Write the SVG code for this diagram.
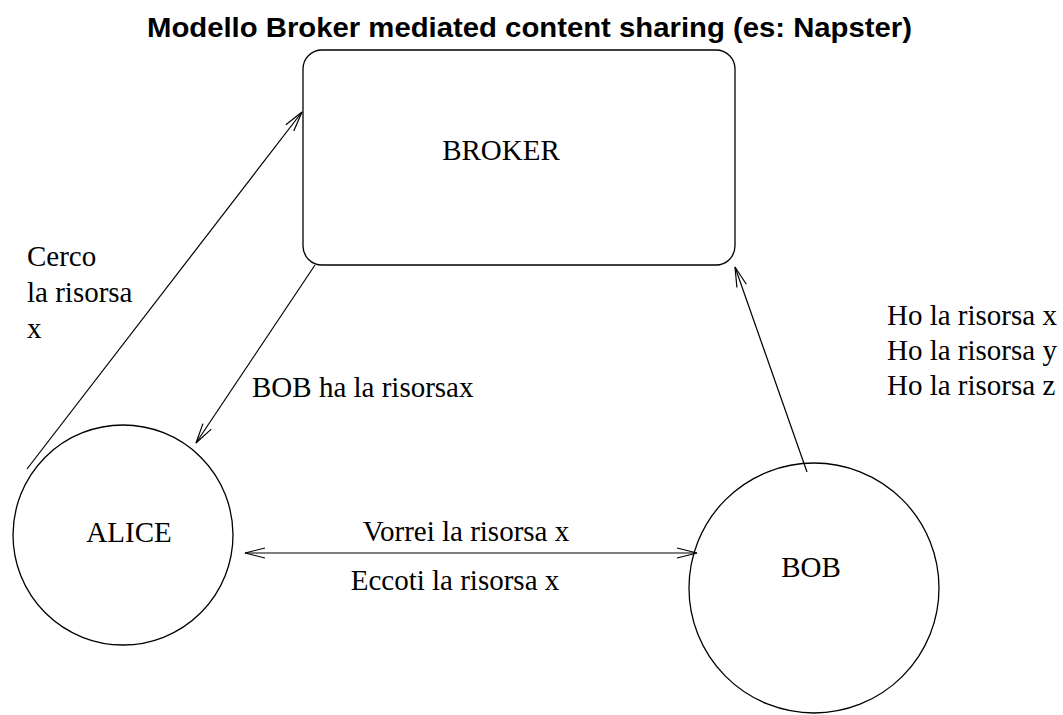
<svg xmlns="http://www.w3.org/2000/svg" width="1063" height="715" viewBox="0 0 1063 715">
<style>
.shape{fill:none;stroke:#000;stroke-width:1.3}
.edge{fill:none;stroke:#000;stroke-width:1.2}
.lbl{font-family:"Liberation Serif","Times New Roman",serif;font-size:29px;fill:#000}
.title{font-family:"Liberation Sans",Arial,sans-serif;font-size:27px;font-weight:bold;fill:#000}
</style>
<defs>
<marker id="open" markerUnits="userSpaceOnUse" markerWidth="24" markerHeight="14" refX="20" refY="6" orient="auto-start-reverse" viewBox="-1 0 24 12">
<path d="M0,1 L20,6 L0,11" fill="none" stroke="#000" stroke-width="1.2"/>
</marker>
</defs>
<rect width="1063" height="715" fill="#fff"/>
<text class="title" x="147" y="37" textLength="765" lengthAdjust="spacingAndGlyphs">Modello Broker mediated content sharing (es: Napster)</text>
<g id="broker">
<rect class="shape" x="303" y="50" width="432" height="215" rx="19" ry="19"/>
<text class="lbl" x="501" y="160" text-anchor="middle">BROKER</text>
</g>
<g id="alice">
<circle class="shape" cx="123" cy="535" r="110"/>
<text class="lbl" x="129" y="542" text-anchor="middle">ALICE</text>
</g>
<g id="bob">
<circle class="shape" cx="814" cy="588" r="125"/>
<text class="lbl" x="811" y="577" text-anchor="middle">BOB</text>
</g>
<g id="connectors">
<line class="edge" x1="27" y1="469" x2="302" y2="112" marker-end="url(#open)"/>
<line class="edge" x1="315" y1="265" x2="196" y2="443" marker-end="url(#open)"/>
<line class="edge" x1="807" y1="472" x2="735" y2="267" marker-end="url(#open)"/>
<line class="edge" x1="245" y1="553" x2="697" y2="553" marker-start="url(#open)" marker-end="url(#open)"/>
</g>
<g id="labels">
<text class="lbl" x="27" y="266">Cerco</text>
<text class="lbl" x="27" y="302">la risorsa</text>
<text class="lbl" x="27" y="338">x</text>
<text class="lbl" x="252" y="397">BOB ha la risorsax</text>
<text class="lbl" x="887" y="325">Ho la risorsa x</text>
<text class="lbl" x="887" y="360">Ho la risorsa y</text>
<text class="lbl" x="887" y="395">Ho la risorsa z</text>
<text class="lbl" x="466" y="541" text-anchor="middle">Vorrei la risorsa x</text>
<text class="lbl" x="455" y="590" text-anchor="middle">Eccoti la risorsa x</text>
</g>
</svg>
